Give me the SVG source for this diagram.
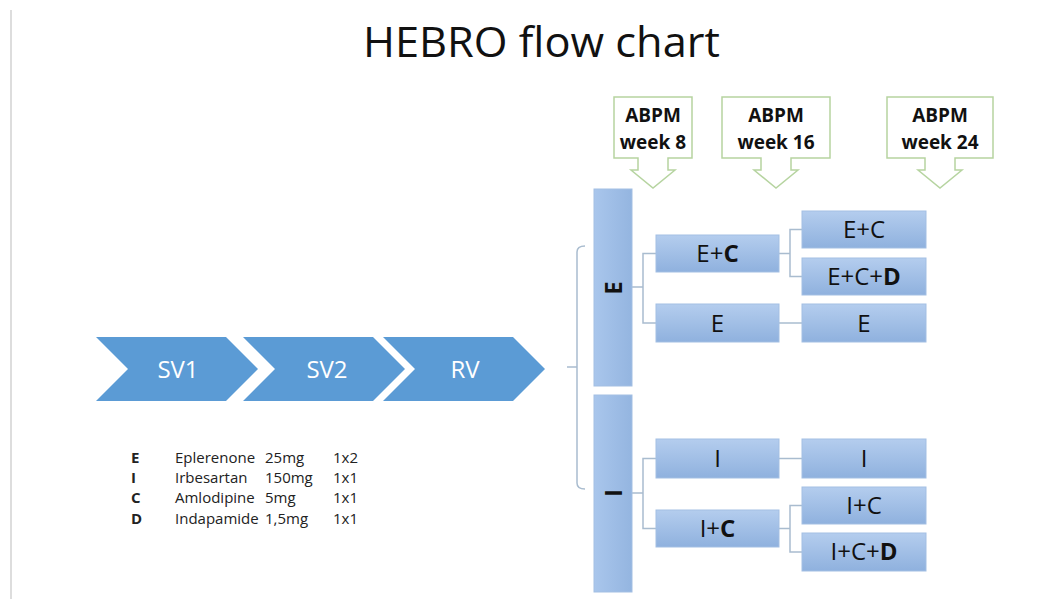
<svg xmlns="http://www.w3.org/2000/svg" width="1060" height="599" viewBox="0 0 1060 599">
<defs>
<linearGradient id="boxg" x1="0" y1="0" x2="0" y2="1">
<stop offset="0" stop-color="#b4cdee"/>
<stop offset="1" stop-color="#8fb1de"/>
</linearGradient>
<linearGradient id="barg" x1="0" y1="0" x2="1" y2="0">
<stop offset="0" stop-color="#a9c6ec"/>
<stop offset="1" stop-color="#94b5e0"/>
</linearGradient>
<style>
text{font-family:"Open Sans","Liberation Sans",sans-serif}
.box{fill:url(#boxg);stroke:#a3bfe3;stroke-width:1}
.bar{fill:url(#barg);stroke:#a3bfe3;stroke-width:1}
.lbl{font-size:24px;fill:#111;text-anchor:middle}
.chev{fill:#5b9bd5}
.chevt{font-size:24px;fill:#ffffff;text-anchor:middle}
.call{fill:#ffffff;stroke:#b6d4a0;stroke-width:1.5}
.callt{font-size:19px;font-weight:bold;fill:#111;text-anchor:middle}
.conn{fill:none;stroke:#a9bccf;stroke-width:1.5}
.leg{font-size:15px;fill:#222}
.b{font-weight:bold}
</style>
</defs>
<rect width="1060" height="599" fill="#ffffff"/>
<line x1="11" y1="10" x2="11" y2="599" stroke="#bbbbbb" stroke-width="1"/>
<text x="541.5" y="57" font-size="42" text-anchor="middle" fill="#111" textLength="357" lengthAdjust="spacingAndGlyphs">HEBRO flow chart</text>

<g id="sv1"><polygon class="chev" points="96,337 226,337 258,369 226,401 96,401 128,369"/><text class="chevt" x="178" y="378">SV1</text></g>
<g id="sv2"><polygon class="chev" points="243,337 373,337 405,369 373,401 243,401 275,369"/><text class="chevt" x="327" y="378">SV2</text></g>
<g id="rv"><polygon class="chev" points="383,337 513,337 545,369 513,401 383,401 415,369"/><text class="chevt" x="465" y="378">RV</text></g>

<g id="abpm8"><path class="call" d="M614,97 H692 V158 H668 V170 H675 L653,188 L631,170 H638 V158 H614 Z"/><text class="callt" x="653" y="122">ABPM</text><text class="callt" x="653" y="149">week 8</text></g>
<g id="abpm16"><path class="call" d="M722,97 H830 V158 H791 V170 H798 L776,188 L754,170 H761 V158 H722 Z"/><text class="callt" x="776" y="122">ABPM</text><text class="callt" x="776" y="149">week 16</text></g>
<g id="abpm24"><path class="call" d="M887,97 H993 V158 H955 V170 H962 L940,188 L918,170 H925 V158 H887 Z"/><text class="callt" x="940" y="122">ABPM</text><text class="callt" x="940" y="149">week 24</text></g>

<g id="connectors">
<path class="conn" d="M585,246 Q577,246 577,252 V483 Q577,489 585,489 M577,367 H567"/>
<path class="conn" d="M632,287 H643 M656,253.5 H643 V323 H656"/>
<path class="conn" d="M779,253.5 H790 M802,229.5 H790 V276.5 H802"/>
<path class="conn" d="M779,323 H802"/>
<path class="conn" d="M632,493 H643 M656,458.5 H643 V528.5 H656"/>
<path class="conn" d="M779,458.5 H802"/>
<path class="conn" d="M779,528.5 H790 M802,505.5 H790 V552 H802"/>
</g>

<g id="barE"><rect class="bar" x="594" y="189" width="38" height="197"/><text class="lbl b" x="613" y="288" dy="9" font-size="26" transform="rotate(-90 613 288)">E</text></g>
<g id="barI"><rect class="bar" x="594" y="395" width="38" height="197"/><text class="lbl b" x="613" y="493" dy="9" font-size="26" transform="rotate(-90 613 493)">I</text></g>

<g id="ec1"><rect class="box" x="656" y="235" width="123" height="37"/><text class="lbl" x="717.5" y="262">E+<tspan class="b">C</tspan></text></g>
<g id="e1"><rect class="box" x="656" y="304" width="123" height="38"/><text class="lbl" x="717.5" y="331.5">E</text></g>
<g id="ec2"><rect class="box" x="802" y="211" width="124" height="37"/><text class="lbl" x="864" y="238">E+C</text></g>
<g id="ecd2"><rect class="box" x="802" y="258" width="124" height="37"/><text class="lbl" x="864" y="285">E+C+<tspan class="b">D</tspan></text></g>
<g id="e2"><rect class="box" x="802" y="304" width="124" height="38"/><text class="lbl" x="864" y="331.5">E</text></g>

<g id="i1"><rect class="box" x="656" y="439" width="123" height="39"/><text class="lbl" x="717.5" y="467">I</text></g>
<g id="ic1"><rect class="box" x="656" y="510" width="123" height="37"/><text class="lbl" x="717.5" y="537">I+<tspan class="b">C</tspan></text></g>
<g id="i2"><rect class="box" x="802" y="439" width="124" height="39"/><text class="lbl" x="864" y="467">I</text></g>
<g id="ic2"><rect class="box" x="802" y="487" width="124" height="37"/><text class="lbl" x="864" y="514">I+C</text></g>
<g id="icd2"><rect class="box" x="802" y="533" width="124" height="38"/><text class="lbl" x="864" y="560">I+C+<tspan class="b">D</tspan></text></g>

<g id="legend">
<text class="leg b" x="131" y="463">E</text><text class="leg" x="175" y="463">Eplerenone</text><text class="leg" x="265" y="463">25mg</text><text class="leg" x="333" y="463">1x2</text>
<text class="leg b" x="131" y="483">I</text><text class="leg" x="175" y="483">Irbesartan</text><text class="leg" x="265" y="483">150mg</text><text class="leg" x="333" y="483">1x1</text>
<text class="leg b" x="131" y="503">C</text><text class="leg" x="175" y="503">Amlodipine</text><text class="leg" x="265" y="503">5mg</text><text class="leg" x="333" y="503">1x1</text>
<text class="leg b" x="131" y="524">D</text><text class="leg" x="175" y="524">Indapamide</text><text class="leg" x="265" y="524">1,5mg</text><text class="leg" x="333" y="524">1x1</text>
</g>
</svg>
